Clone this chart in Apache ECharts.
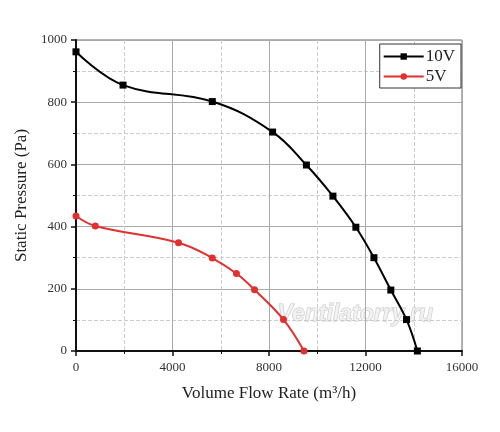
<!DOCTYPE html>
<html>
<head>
<meta charset="utf-8">
<script src="https://cdn.jsdelivr.net/npm/echarts@6/dist/echarts.min.js"></script>
<style>
  html, body { margin: 0; padding: 0; background: #fff; }
  #main { width: 500px; height: 432px; }
</style>
</head>
<body>
<div id="main"></div>
<script>
// 10V 曲线数据
var flow10V = [0, 1950, 5650, 8150, 9550, 10650, 11600, 12350, 13050, 13700, 14150]
var pressure10V = [962, 855, 802, 704, 598, 498, 398, 300, 196, 101, 0]
// 5V 曲线数据
var flow5V = [0, 800, 4250, 5650, 6650, 7400, 8600, 9450]
var pressure5V = [434, 402, 348, 299, 249, 197, 101, 0]
var xTicks = [0, 4000, 8000, 12000, 16000]
var yTicks = [0, 200, 400, 600, 800, 1000]

function pairs(xs, ys) {
  return xs.map(function (x, i) { return [x, ys[i]] })
}

var chart = echarts.init(document.getElementById('main'))
var serif = 'Liberation Serif'
var option = {
  backgroundColor: '#fff',
  textStyle: { fontFamily: serif },
  grid: {
    left: 76, right: 38, top: 40, bottom: 81,
    show: true, borderColor: '#666', borderWidth: 1
  },
  legend: {
    right: 39, top: 44,
    orient: 'vertical',
    itemWidth: 40, itemHeight: 8, itemGap: 3,
    padding: [4, 6, 3, 3],
    borderColor: '#333', borderWidth: 1, borderRadius: 0,
    backgroundColor: '#fff',
    textStyle: { fontFamily: serif, fontSize: 17, color: '#222', padding: [0, 0, 0, -3] },
    data: ['10V', '5V']
  },
  xAxis: {
    type: 'value',
    min: xTicks[0], max: xTicks[xTicks.length - 1], interval: 4000,
    name: 'Volume Flow Rate (m³/h)',
    nameLocation: 'middle', nameGap: 34,
    nameTextStyle: { fontFamily: serif, fontSize: 17, color: '#222' },
    axisLine: { onZero: false, lineStyle: { color: '#111', width: 2 } },
    axisTick: { show: true, length: 5, lineStyle: { color: '#111', width: 1.5 } },
    minorTick: { show: true, splitNumber: 2, length: 3, lineStyle: { color: '#111' } },
    axisLabel: { fontFamily: serif, fontSize: 13, color: '#333', margin: 10, formatter: function (v) { return String(v) } },
    splitLine: { show: true, lineStyle: { color: '#aaa', width: 1 } },
    minorSplitLine: { show: true, lineStyle: { color: '#ccc', type: 'dashed', width: 1 } }
  },
  yAxis: {
    type: 'value',
    min: yTicks[0], max: yTicks[yTicks.length - 1], interval: 200,
    name: 'Static Pressure (Pa)',
    nameLocation: 'middle', nameGap: 46,
    nameTextStyle: { fontFamily: serif, fontSize: 17, color: '#222' },
    axisLine: { show: true, onZero: false, lineStyle: { color: '#111', width: 2 } },
    axisTick: { show: true, length: 5, lineStyle: { color: '#111', width: 1.5 } },
    minorTick: { show: true, splitNumber: 2, length: 3, lineStyle: { color: '#111' } },
    axisLabel: { fontFamily: serif, fontSize: 13, color: '#333', margin: 9, formatter: function (v) { return String(v) } },
    splitLine: { show: true, lineStyle: { color: '#aaa', width: 1 } },
    minorSplitLine: { show: true, lineStyle: { color: '#ccc', type: 'dashed', width: 1 } }
  },
  series: [
    {
      name: '10V',
      type: 'line',
      smooth: 0.4,
      symbol: 'rect',
      symbolSize: 7,
      itemStyle: { color: '#000' },
      lineStyle: { color: '#000', width: 2 },
      data: pairs(flow10V, pressure10V)
    },
    {
      name: '5V',
      type: 'line',
      smooth: 0.4,
      symbol: 'circle',
      symbolSize: 7,
      itemStyle: { color: '#e03030' },
      lineStyle: { color: '#e03030', width: 2 },
      data: pairs(flow5V, pressure5V)
    }
  ],
  graphic: [
    {
      type: 'text',
      left: 277, top: 303,
      silent: true,
      style: {
        text: 'Ventilatorry.ru',
        font: 'italic bold 23px "Liberation Sans"',
        fill: 'rgba(240,240,240,0.8)',
        stroke: 'rgba(175,175,175,0.7)',
        lineWidth: 1
      }
    }
  ]
}
chart.setOption(option)
</script>
</body>
</html>
